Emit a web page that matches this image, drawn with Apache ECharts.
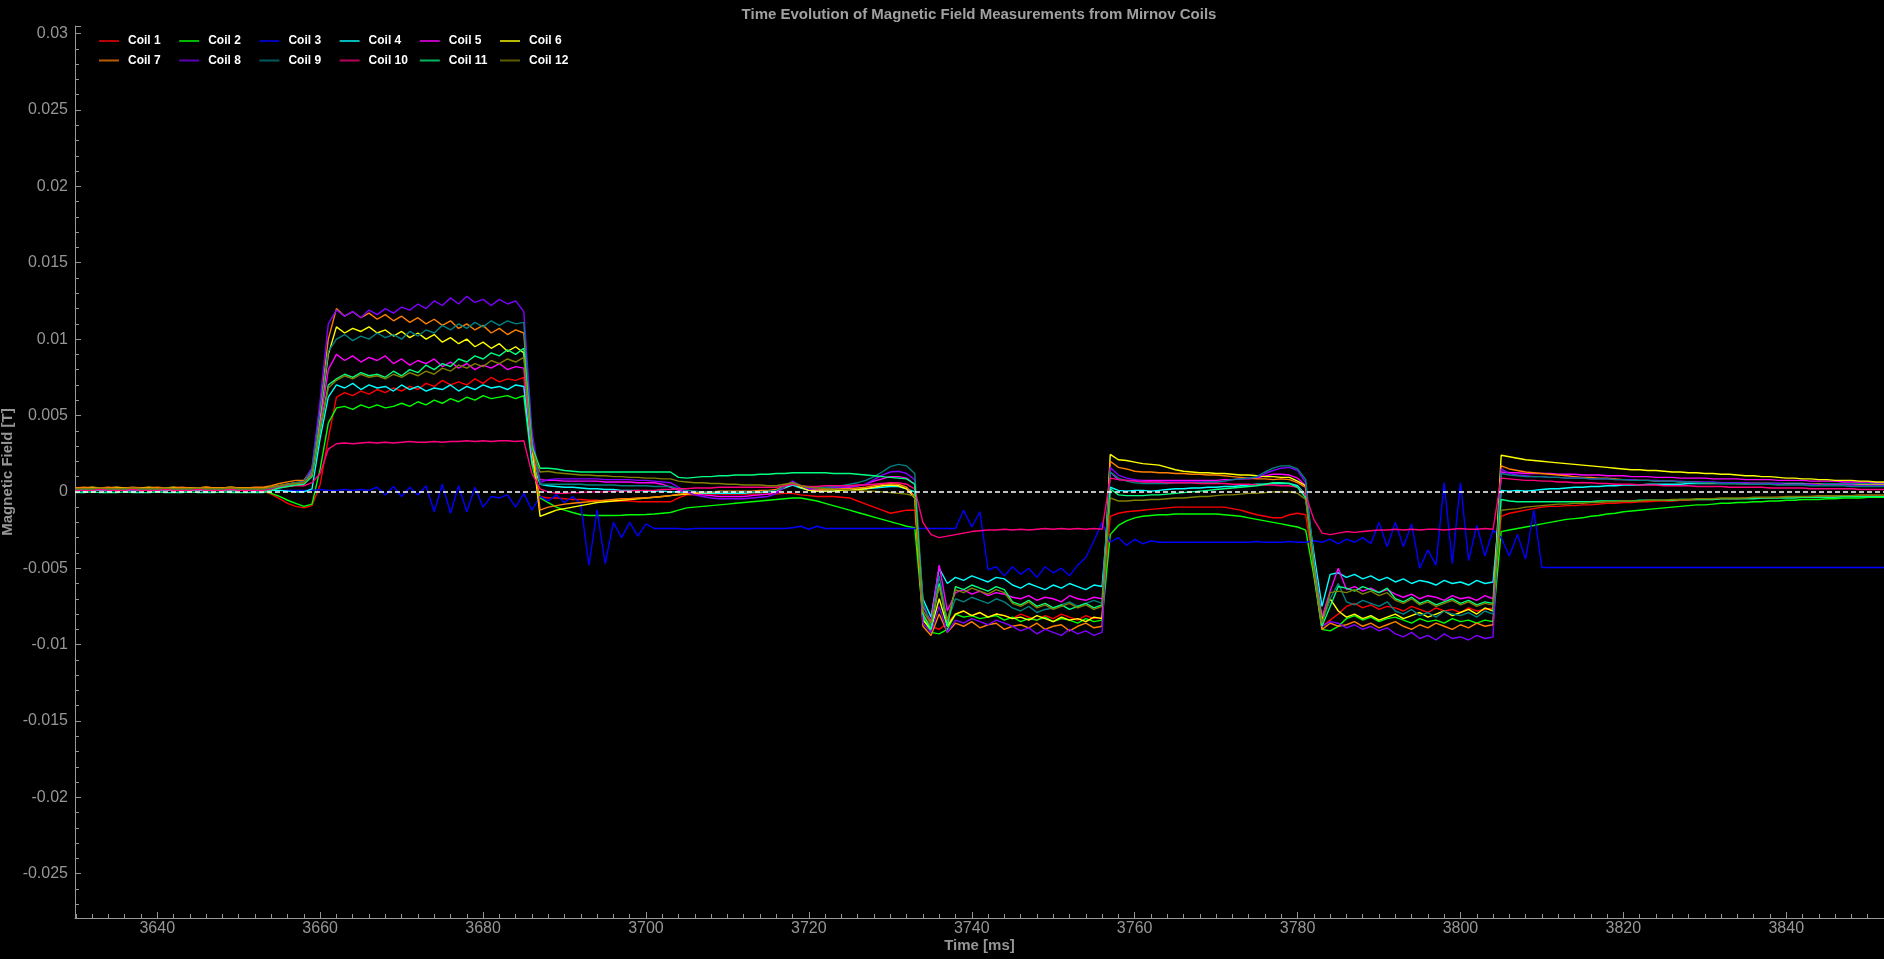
<!DOCTYPE html>
<html>
<head>
<meta charset="utf-8">
<title>Mirnov Coils</title>
<script src="https://cdn.jsdelivr.net/npm/echarts@6/dist/echarts.min.js"></script>
<style>
  html, body { margin: 0; padding: 0; background: #000; }
  #chart { width: 1884px; height: 959px; }
</style>
</head>
<body>
<div id="chart"></div>
<script>
// time axis in ms (1 ms sampling)
const timeMs = [
  3630, 3631, 3632, 3633, 3634, 3635, 3636, 3637, 3638, 3639,
  3640, 3641, 3642, 3643, 3644, 3645, 3646, 3647, 3648, 3649,
  3650, 3651, 3652, 3653, 3654, 3655, 3656, 3657, 3658, 3659,
  3660, 3661, 3662, 3663, 3664, 3665, 3666, 3667, 3668, 3669,
  3670, 3671, 3672, 3673, 3674, 3675, 3676, 3677, 3678, 3679,
  3680, 3681, 3682, 3683, 3684, 3685, 3686, 3687, 3688, 3689,
  3690, 3691, 3692, 3693, 3694, 3695, 3696, 3697, 3698, 3699,
  3700, 3701, 3702, 3703, 3704, 3705, 3706, 3707, 3708, 3709,
  3710, 3711, 3712, 3713, 3714, 3715, 3716, 3717, 3718, 3719,
  3720, 3721, 3722, 3723, 3724, 3725, 3726, 3727, 3728, 3729,
  3730, 3731, 3732, 3733, 3734, 3735, 3736, 3737, 3738, 3739,
  3740, 3741, 3742, 3743, 3744, 3745, 3746, 3747, 3748, 3749,
  3750, 3751, 3752, 3753, 3754, 3755, 3756, 3757, 3758, 3759,
  3760, 3761, 3762, 3763, 3764, 3765, 3766, 3767, 3768, 3769,
  3770, 3771, 3772, 3773, 3774, 3775, 3776, 3777, 3778, 3779,
  3780, 3781, 3782, 3783, 3784, 3785, 3786, 3787, 3788, 3789,
  3790, 3791, 3792, 3793, 3794, 3795, 3796, 3797, 3798, 3799,
  3800, 3801, 3802, 3803, 3804, 3805, 3806, 3807, 3808, 3809,
  3810, 3811, 3812, 3813, 3814, 3815, 3816, 3817, 3818, 3819,
  3820, 3821, 3822, 3823, 3824, 3825, 3826, 3827, 3828, 3829,
  3830, 3831, 3832, 3833, 3834, 3835, 3836, 3837, 3838, 3839,
  3840, 3841, 3842, 3843, 3844, 3845, 3846, 3847, 3848, 3849,
  3850, 3851, 3852
];

// coil signals, in units of 1e-4 T
// segments: 3630-3653 | 3654-3661 | 3662-3685 | 3686 | 3687-3699 | 3700-3716 | 3717-3733
//           3734-3737 | 3738-3756 | 3757-3769 | 3770-3781 | 3782-3785 | 3786-3804 | 3805-3852
const coil1 = [
  1, 1, 1.5, 1, 1, 1.5, 1, 1, 1, 1.5, 1, 1,
  1, 1.5, 1, 1, 1, 1.5, 1, 1, 1, 1, 1, 0.5,
  -1.5, -4.5, -7.5, -9.5, -10.5, -9, 5, 35,
  62, 65, 63, 66, 64, 67, 65, 68, 66, 69, 67, 71, 69, 73, 70, 72, 70, 74, 71, 75, 72, 74, 73, 75,
  22,
  -3, -4, -4, -4.5, -5, -5, -5.5, -5.5, -6, -6, -6, -6, -6.5,
  -6.5, -6.5, -6.5, -6.5, -4, -2, -2, -1.5, -1.5, -1.5, -1.5, -1.5, -1.5, -1.5, -1.5, -1.5, -1.5,
  -1, -1, -2, -2.5, -3, -3, -3, -3.5, -4, -6, -8, -10, -12, -14, -13, -12, -12,
  -80, -88, -90, -86,
  -80, -78, -81, -79, -82, -80, -81, -83, -80, -82, -84, -81, -83, -80, -82, -84, -81, -83, -82,
  -16, -14, -13, -12.5, -12, -11.5, -11, -10.5, -10, -10, -10, -10, -10,
  -10, -10, -11, -12, -13.5, -15, -16, -17, -17, -15, -14, -15,
  -50, -88, -84, -80,
  -75, -73, -76, -74, -77, -75, -76, -78, -75, -77, -79, -76, -78, -77, -79, -76, -78, -77, -76,
  -16, -14, -13, -12, -11, -10, -9.5, -9.5, -9, -9, -8.5, -8.5,
  -8, -7.5, -7.5, -7, -7, -6.5, -6.5, -6, -6, -6, -5.5, -5.5,
  -5, -5, -5, -4.5, -4.5, -4.5, -4, -4, -4, -4, -3.5, -3.5,
  -3.5, -3.5, -3, -3, -3, -3, -3, -2.5, -2.5, -2.5, -2.5, -2.5
];
const coil2 = [
  1.5, 1, 1.5, 1.5, 1, 1.5, 1.5, 1, 1.5, 1.5, 1, 1.5,
  1.5, 1, 1.5, 1.5, 1, 1.5, 1.5, 1, 1.5, 1.5, 1, 1,
  -1, -3, -5.5, -7.5, -9.5, -8, 15, 45,
  55, 56, 54, 57, 55, 57, 55, 56, 58, 56, 59, 57, 60, 58, 61, 59, 62, 60, 63, 61, 62, 63, 61, 63,
  18,
  -4, -7, -10, -12, -13.5, -15, -15.5, -15.5, -15.5, -15.5, -15.3, -15, -15,
  -14.8, -14.5, -14, -13.5, -12, -10.5, -10, -9.5, -9, -8.5, -8, -7.5, -7, -6.5, -6, -5.5, -5,
  -4.5, -4, -4, -5, -6, -7.5, -9, -10.5, -12, -13.5, -15, -16.5, -18, -19.5, -21, -22.5, -23.5,
  -82, -92, -93, -90,
  -80, -82, -81, -83, -82, -81, -84, -82, -85, -83, -84, -82, -85, -83, -84, -86, -83, -85, -84,
  -28, -22, -19, -17, -16, -15.5, -15, -15, -14.5, -14.5, -14.5, -14.5, -14.5,
  -14.5, -15, -15.5, -16, -17, -18, -19, -20, -21, -22, -23, -25,
  -55, -90, -91, -88,
  -83, -81, -84, -82, -85, -83, -82, -84, -86, -83, -85, -84, -86, -83, -85, -84, -86, -84, -85,
  -26, -25, -24, -23, -22, -21, -20, -19, -18, -17.5, -17, -16,
  -15.5, -14.5, -14, -13, -12.5, -12, -11.5, -11, -10.5, -10, -9.5, -9,
  -8.5, -8.5, -8, -7.5, -7.5, -7, -7, -6.5, -6.5, -6, -6, -5.5,
  -5.5, -5, -5, -5, -4.5, -4.5, -4, -4, -4, -3.5, -3.5, -3.5
];
const coil3 = [
  1, 1, 2.5, 1, 1, 2.5, 1, 1, 1, 2.5, 1, 1,
  2.5, 1, 1, 1, 2.5, 1, 1, 2.5, 1, 1, 1, 2.5,
  1, 1, 1, 1, 1, 1, 1.5, 1,
  1, 1.5, 1, 1.5, 1, 3, -2, 3.5, -3, 3, -2, 4, -13, 5, -14, 4, -13, 3, -10, -3, -4, -2, -10, -1,
  -12,
  -3, -6, -2, -7, -3, -8, -48, -12, -47, -20, -30, -20, -29,
  -21, -24, -24, -24, -24, -24.5, -24, -24, -24, -24, -24, -24, -24, -24, -24, -24, -24,
  -24, -23.5, -22.5, -24.5, -22.5, -24, -24, -24, -24, -24, -24, -24, -24, -24, -24, -24, -24,
  -24, -24, -24, -24,
  -24, -12, -23, -13, -51, -49, -55, -49, -54, -50, -56, -49, -53, -50, -55, -48, -43, -32, -20,
  -33, -30, -35, -31, -34, -32, -33, -33, -33, -33, -33, -33, -33,
  -33, -33, -33, -33, -33, -32.5, -33, -33, -33, -32.5, -33, -33,
  -32, -33, -31, -34,
  -31, -33, -30, -34, -20, -36, -20, -36, -21, -50, -38, -48, 6, -47, 6, -45, -22, -42, -25,
  -30, -42, -28, -44, -12, -49.5, -49.5, -49.5, -49.5, -49.5, -49.5, -49.5,
  -49.5, -49.5, -49.5, -49.5, -49.5, -49.5, -49.5, -49.5, -49.5, -49.5, -49.5, -49.5,
  -49.5, -49.5, -49.5, -49.5, -49.5, -49.5, -49.5, -49.5, -49.5, -49.5, -49.5, -49.5,
  -49.5, -49.5, -49.5, -49.5, -49.5, -49.5, -49.5, -49.5, -49.5, -49.5, -49.5, -49.5
];
const coil4 = [
  1, 0.5, 1, 1, 0.5, 1, 1, 0.5, 1, 1, 0.5, 1,
  1, 0.5, 1, 1, 0.5, 1, 1, 0.5, 1, 1, 0.5, 1,
  1, 1, 0.5, 0, 0, 2, 35, 62,
  70, 68, 71, 67, 70, 68, 69, 66, 70, 67, 69, 66, 68, 67, 70, 66, 69, 67, 70, 68, 69, 67, 70, 69,
  20,
  5, 4, 3.5, 3, 3, 2.5, 2, 2, 1.5, 1.5, 1, 1, 1,
  0.5, 0.5, 0.5, 0, 0, -0.5, -0.5, -1, -1, -1, -1, -1, -1, -0.5, -0.5, 0, 0.5,
  2.5, 4.5, 2.5, 1, 0.5, 0.5, 0.5, 1, 1, 1.5, 2, 2.5, 3, 3.5, 3.5, 2, 0,
  -70, -82, -50, -60,
  -56, -58, -55, -57, -59, -56, -57, -61, -63, -60, -62, -64, -61, -63, -60, -62, -64, -61, -62,
  3, 1, 0.5, 1, 1, 0.5, 1, 1.5, 2, 2, 2.5, 2.5, 3,
  3, 3.5, 3.5, 4, 4.5, 5, 5, 5.5, 5.5, 5.5, 4, -2,
  -40, -75, -54, -53,
  -56, -54, -57, -55, -58, -56, -59, -57, -60, -58, -59, -61, -58, -60, -59, -61, -58, -60, -59,
  1, 0.5, 1, 0.5, 1, 1.5, 2, 2, 2.5, 3, 3, 3.5,
  3.5, 4, 4, 4.5, 4.5, 4.5, 5, 5, 5, 5, 5, 5.5,
  5.5, 5.5, 5.5, 5.5, 5.5, 5.5, 5.5, 5.5, 5.5, 5.5, 5.5, 5.5,
  5.5, 5.5, 5, 5, 5, 5, 5, 5, 5, 5, 5, 5
];
const coil5 = [
  2, 2, 2.5, 2, 2, 2.5, 2, 2, 2, 2.5, 2, 2,
  2.5, 2, 2, 2, 2.5, 2, 2, 2.5, 2, 2, 2, 2,
  2.5, 3.5, 4.5, 5.5, 6, 12, 45, 80,
  90, 86, 89, 85, 88, 86, 89, 84, 87, 83, 86, 84, 87, 82, 85, 81, 84, 80, 83, 81, 84, 80, 82, 81,
  25,
  8, 7.5, 7.5, 7, 7, 7, 7, 7, 6.5, 6.5, 6.5, 6.5, 6,
  6, 6, 5, 3, 1, 0, -1, -2, -2.5, -3, -3, -3, -3, -2.5, -2, -1.5, 0,
  3, 6, 4, 1, 1, 1.5, 2, 2.5, 3, 4, 5, 7, 8.5, 10, 10, 9, 5,
  -75, -85, -48, -78,
  -66, -64, -67, -65, -68, -66, -67, -69, -70, -68, -71, -69, -70, -72, -68, -70, -71, -69, -70,
  13, 8, 7.5, 7.5, 7.5, 7.5, 7.5, 7.5, 7.5, 7.5, 7.5, 7.5, 7.5,
  7.5, 8, 8, 8.5, 8.5, 9, 10.5, 11.5, 11.5, 11, 9, 4,
  -45, -82, -65, -50,
  -64, -62, -65, -63, -66, -64, -67, -69, -67, -70, -68, -69, -71, -68, -70, -69, -71, -68, -70,
  13, 12.5, 12.5, 12, 12, 12, 12, 11.5, 11.5, 11.5, 11, 11,
  11, 10.5, 10.5, 10.5, 10, 10, 10, 9.5, 9.5, 9.5, 9, 9,
  9, 9, 8.5, 8.5, 8.5, 8.5, 8, 8, 8, 8, 7.5, 7.5,
  7.5, 7.5, 7, 7, 7, 7, 6.5, 6.5, 6.5, 6.5, 6, 6
];
const coil6 = [
  2.5, 2.5, 3, 2.5, 2.5, 3, 2.5, 2.5, 2.5, 3, 2.5, 2.5,
  3, 2.5, 2.5, 2.5, 3, 2.5, 2.5, 3, 2.5, 2.5, 2.5, 2.5,
  3, 4, 5, 6, 6.5, 14, 50, 90,
  108, 104, 107, 105, 108, 104, 106, 102, 105, 101, 104, 100, 103, 98, 101, 97, 100, 95, 98, 94, 97, 92, 95, 91,
  30,
  -16, -14, -12, -11, -10, -9, -8, -7, -6.5, -6, -5.5, -5, -4.5,
  -4, -3.5, -3, -2.5, -2, -1.5, -1, -0.5, -0.5, 0, 0, 0, 0, 0, 0, 0.5, 1,
  3, 6, 3, 1, 0.5, 0.5, 0.5, 1, 1, 1.5, 2, 3, 4, 4.5, 4, 2, -4,
  -84, -90, -70, -88,
  -80, -78, -81, -79, -82, -80, -81, -83, -82, -84, -81, -83, -85, -82, -84, -83, -85, -82, -83,
  24.5, 21, 20.5, 19.5, 18.5, 18, 17.5, 16, 14.5, 13.5, 13, 12.5, 12.5,
  12, 12, 11.5, 11, 11, 10.5, 10, 10, 9.5, 9.5, 7, 4,
  -50, -84, -70, -78,
  -82, -80, -83, -81, -84, -82, -80, -83, -81, -79, -82, -80, -78, -81, -79, -77, -80, -76, -78,
  24, 23, 22, 21, 20.5, 20, 19.5, 19, 18.5, 18, 17.5, 17,
  16.5, 16, 15.5, 15, 14.5, 14.5, 14, 14, 13.5, 13, 13, 12.5,
  12.5, 12, 12, 11.5, 11.5, 11, 10.5, 10.5, 10, 10, 9.5, 9,
  9, 8.5, 8.5, 8, 8, 7.5, 7.5, 7.5, 7, 7, 6.5, 6.5
];
const coil7 = [
  2.5, 3, 2.5, 2.5, 3, 2.5, 2.5, 3, 2.5, 2.5, 3, 2.5,
  2.5, 3, 2.5, 2.5, 3, 2.5, 2.5, 3, 2.5, 2.5, 3, 3,
  4, 5.5, 6.5, 7.5, 7.5, 15, 55, 100,
  120, 115, 118, 114, 117, 113, 116, 112, 115, 111, 114, 110, 113, 109, 112, 107, 110, 106, 109, 104, 107, 103, 106, 104,
  35,
  -12, -10, -9, -8, -7.5, -7, -6.5, -6, -5.5, -5, -4.5, -4.5, -4,
  -4, -3.5, -3, -2.5, -1.5, -1, -0.5, 0, 0, 0.5, 0.5, 0.5, 0.5, 0.5, 1, 1, 1.5,
  4, 6.5, 4, 2, 1.5, 1.5, 1.5, 2, 2, 2.5, 3, 4, 5, 5.5, 5, 3, -3,
  -88, -94, -80, -92,
  -86, -88, -85, -89, -87, -86, -90, -88, -87, -89, -86, -90, -88, -87, -91, -88, -86, -89, -88,
  20, 16, 15, 13.5, 13, 13, 12.5, 12.5, 12, 12, 11.5, 11.5, 11,
  11, 10.5, 10, 9.5, 9, 8.5, 8.5, 8, 8.5, 8, 6, 3,
  -52, -90, -86, -88,
  -87, -85, -88, -86, -89, -87, -85, -88, -90, -87, -89, -86, -88, -90, -87, -89, -86, -88, -87,
  17, 15, 14, 13, 12.5, 12, 11.5, 11, 10.5, 10, 9.5, 9.5,
  9, 9, 8.5, 8, 8, 7.5, 7.5, 7, 7, 7, 6.5, 6.5,
  6.5, 6, 6, 6, 6, 5.5, 5.5, 5.5, 5.5, 5.5, 5, 5,
  5, 5, 5, 5, 4.5, 4.5, 4.5, 4.5, 4.5, 4.5, 4.5, 4.5
];
const coil8 = [
  1.5, 1.5, 2, 1.5, 1.5, 2, 1.5, 1.5, 1.5, 2, 1.5, 1.5,
  2, 1.5, 1.5, 1.5, 2, 1.5, 1.5, 2, 1.5, 1.5, 1.5, 1.5,
  2.5, 4, 5, 6, 6.5, 16, 60, 110,
  119, 115, 118, 114, 119, 116, 120, 117, 121, 119, 123, 120, 125, 122, 127, 123, 128, 124, 126, 122, 126, 123, 125, 118,
  40,
  6, 8, 8.5, 8.5, 8.5, 8.5, 8.5, 8.5, 8, 8, 8, 8, 7.5,
  7.5, 7, 6.5, 6, 3, 0, -2, -3, -4, -4.5, -4.5, -4.5, -4.5, -4, -3.5, -3, -1,
  3, 7, 4, 2, 2, 2.5, 3, 3, 3.5, 4, 5, 8, 11, 13, 13.5, 12, 8,
  -86, -92, -75, -92,
  -84, -86, -83, -85, -87, -84, -86, -88, -91, -89, -93, -90, -92, -94, -90, -93, -91, -94, -92,
  16, 11, 9, 8, 7, 6.5, 6.5, 6.5, 6.5, 6.5, 6.5, 6.5, 6.5,
  6.5, 7, 8, 8.5, 9, 9.5, 12, 14, 15.5, 16, 14, 6,
  -50, -88, -85, -86,
  -89, -87, -90, -88, -91, -89, -93, -95, -92, -96, -94, -97, -93, -96, -95, -97, -94, -96, -95,
  15, 12, 11, 10.5, 10, 10, 9.5, 9.5, 9, 9, 9, 8.5,
  8.5, 8.5, 8, 8, 8, 7.5, 7.5, 7.5, 7, 7, 7, 6.5,
  6.5, 6.5, 6.5, 6, 6, 6, 6, 5.5, 5.5, 5.5, 5.5, 5,
  5, 5, 5, 4.5, 4.5, 4.5, 4.5, 4.5, 4, 4, 4, 4
];
const coil9 = [
  1.5, 1.5, 1.5, 2, 1.5, 1.5, 1.5, 2, 1.5, 1.5, 1.5, 2,
  1.5, 1.5, 1.5, 2, 1.5, 1.5, 1.5, 2, 1.5, 1.5, 1.5, 1.5,
  2.5, 4, 5, 6, 6.5, 14, 52, 92,
  100, 103, 99, 102, 100, 104, 101, 103, 100, 105, 102, 106, 104, 109, 106, 110, 107, 111, 108, 112, 109, 112, 110, 111,
  33,
  5, 5, 5, 5, 5, 5, 4.5, 4.5, 4.5, 4.5, 4, 4, 4,
  4, 3.5, 3.5, 3.5, 2, 1, 0.5, 0, 0, 0, 0, 0, 0, 0, 0, 0.5, 1,
  3.5, 6, 4, 3, 3, 3, 3.5, 4, 5, 6, 7.5, 10, 13, 16.5, 18, 17, 12,
  -72, -88, -55, -85,
  -70, -72, -69, -71, -73, -70, -72, -76, -78, -75, -79, -77, -76, -74, -72, -75, -73, -71, -73,
  13, 9, 7, 6, 5.5, 5.5, 5.5, 5.5, 6, 6, 6, 6, 6.5,
  6.5, 7, 8, 8.5, 9, 10, 13, 15.5, 17, 17, 15, 8,
  -45, -86, -70, -60,
  -72, -74, -71, -73, -75, -72, -78, -80, -77, -81, -79, -82, -78, -80, -81, -79, -82, -78, -80,
  12, 11, 10.5, 10, 10, 10, 9.5, 9.5, 9, 9, 9, 8.5,
  8.5, 8.5, 8, 8, 7.5, 7.5, 7.5, 7, 7, 7, 6.5, 6.5,
  6, 6, 6, 5.5, 5.5, 5.5, 5, 5, 5, 5, 4.5, 4.5,
  4.5, 4.5, 4, 4, 4, 4, 4, 3.5, 3.5, 3.5, 3.5, 3.5
];
const coil10 = [
  1, 1, 1, 1.5, 1, 1, 1, 1.5, 1, 1, 1, 1.5,
  1, 1, 1, 1.5, 1, 1, 1, 1.5, 1, 1, 1, 1,
  1.5, 3, 3.5, 4, 4, 6, 12, 28,
  31.5, 32, 31.5, 32, 32.5, 32, 32.5, 32, 32.5, 33, 32.5, 32.5, 33, 32.5, 33, 33, 33.5, 33, 33.5, 33, 33.5, 33.5, 33, 33.5,
  12,
  2, 0, -1, -1, -0.5, -0.5, 0, 0, 0, 0.5, 0.5, 0.5, 1,
  1, 1, 1.5, 1.5, 2, 2, 2.5, 2.5, 2.5, 3, 3, 3, 3, 3, 3, 3, 3,
  4, 5, 4, 3.5, 3.5, 4, 4, 4, 4, 4.5, 4.5, 5, 5.5, 6, 6, 5, 2,
  -20, -28, -30, -29,
  -28, -27, -26, -25.5, -25, -25, -24.5, -25, -24.5, -25, -24.5, -24, -24.5, -24, -24.5, -24, -24.5, -24, -24.5,
  9, 8, 7.5, 7, 6.5, 6.5, 6.5, 6, 6, 6, 6, 5.5, 5.5,
  5.5, 5.5, 5, 5, 5, 4.5, 4.5, 4.5, 4, 4, 3, -2,
  -18, -27, -28, -27,
  -26, -26.5, -26, -25.5, -25, -25, -24.5, -25, -24.5, -25, -24.5, -24.5, -25, -24.5, -24, -24.5, -24.5, -24, -24.5,
  9, 8.5, 8, 7.5, 7.5, 7, 7, 6.5, 6.5, 6, 6, 6,
  5.5, 5.5, 5, 5, 5, 4.5, 4.5, 4.5, 4, 4, 4, 4,
  3.5, 3.5, 3.5, 3.5, 3, 3, 3, 3, 3, 2.5, 2.5, 2.5,
  2.5, 2.5, 2, 2, 2, 2, 2, 2, 1.5, 1.5, 1.5, 1.5
];
const coil11 = [
  -0.5, -0.5, 0, -0.5, -0.5, -0.5, 0, -0.5, -0.5, -0.5, 0, -0.5,
  -0.5, -0.5, 0, -0.5, -0.5, -0.5, 0, -0.5, -0.5, -0.5, -0.5, -0.5,
  1, 2.5, 3.5, 4.5, 5, 10, 40, 70,
  74, 77, 75, 78, 76, 77, 75, 79, 76, 80, 78, 83, 80, 84, 82, 87, 85, 89, 87, 91, 89, 93, 90, 94,
  30,
  15.5, 15.5, 15, 14, 13.5, 13, 13, 13, 13, 13, 13, 13, 13,
  13, 13, 13, 13, 9.5, 9, 9.5, 10, 10, 10.5, 10.5, 11, 11, 11, 11.5, 11.5, 12,
  12, 12.5, 12.5, 12.5, 12.5, 12.5, 12, 12, 12, 11.5, 11, 10.5, 10, 9.5, 9, 8.5, 5,
  -80, -90, -60, -88,
  -62, -64, -61, -63, -65, -62, -64, -72, -74, -71, -75, -73, -76, -74, -77, -75, -73, -76, -74,
  2, -2, -2.5, -2.5, -2.5, -2, -2, -1.5, -1, -0.5, 0, 0.5, 1,
  1.5, 2, 2.5, 3, 3.5, 4, 5, 6, 6, 5.5, 3, -4,
  -48, -88, -75, -62,
  -63, -65, -62, -64, -66, -63, -70, -72, -69, -73, -71, -74, -72, -70, -73, -71, -74, -72, -73,
  -5, -6, -6.5, -6.5, -6.5, -6.5, -6.5, -6.5, -6.5, -6.5, -6.5, -6.5,
  -6, -6, -6, -6, -6, -5.5, -5.5, -5.5, -5.5, -5.5, -5, -5,
  -5, -5, -5, -4.5, -4.5, -4.5, -4.5, -4.5, -4, -4, -4, -4,
  -4, -3.5, -3.5, -3.5, -3.5, -3.5, -3, -3, -3, -3, -3, -3
];
const coil12 = [
  2, 2, 2, 2.5, 2, 2, 2, 2.5, 2, 2, 2, 2.5,
  2, 2, 2, 2.5, 2, 2, 2, 2.5, 2, 2, 2, 2,
  3, 4, 5, 5.5, 6, 11, 42, 68,
  73, 76, 74, 77, 75, 76, 74, 77, 75, 78, 76, 79, 77, 81, 79, 83, 81, 84, 82, 86, 84, 87, 85, 88,
  28,
  13, 13.5, 12.5, 12, 11.5, 11, 11, 10.5, 10.5, 10, 10, 9.5, 9.5,
  9, 9, 8.5, 8.5, 7, 6.5, 6, 6, 5.5, 5.5, 5, 5, 4.5, 4.5, 4.5, 4, 4,
  5, 6, 4, 3, 2.5, 2, 2, 1.5, 1, 1, 0.5, 0.5, 0, -0.5, -1, -1.5, -3,
  -78, -86, -62, -84,
  -64, -66, -63, -65, -67, -64, -66, -73, -75, -72, -76, -74, -77, -75, -73, -76, -74, -77, -75,
  -4, -6, -6, -5.5, -5.5, -5, -5, -4.5, -4, -4, -3.5, -3, -3,
  -2.5, -2, -2, -1.5, -1, -1, -0.5, 0, 0, 0, -1, -5,
  -50, -86, -66, -65,
  -66, -64, -67, -65, -68, -66, -71, -73, -70, -74, -72, -75, -73, -71, -74, -72, -75, -73, -74,
  -12, -11.5, -11, -10, -9.5, -9, -8.5, -8, -8, -7.5, -7.5, -7,
  -7, -6.5, -6.5, -6, -6, -6, -5.5, -5.5, -5.5, -5, -5, -5,
  -4.5, -4.5, -4.5, -4, -4, -4, -4, -3.5, -3.5, -3.5, -3.5, -3,
  -3, -3, -3, -2.5, -2.5, -2.5, -2.5, -2.5, -2, -2, -2, -2
];

const coilNames = ['Coil 1', 'Coil 2', 'Coil 3', 'Coil 4', 'Coil 5', 'Coil 6',
  'Coil 7', 'Coil 8', 'Coil 9', 'Coil 10', 'Coil 11', 'Coil 12'];
const coilColors = ['#ff0000', '#00ff00', '#0000ff', '#00ffff', '#ff00ff', '#ffff00',
  '#ff8000', '#8000ff', '#008080', '#ff0080', '#00ff80', '#808000'];
const coilValues = [coil1, coil2, coil3, coil4, coil5, coil6,
  coil7, coil8, coil9, coil10, coil11, coil12];

const AXIS_GREY = '#969696';
const FONT = 'Liberation Sans, Arial, sans-serif';

/**
 * 单个线圈的折线系列
 * @param name 图例名
 * @param values 数据 (1e-4 T)
 * @param color 颜色
 */
function coilSeries(name, values, color) {
  if (values.length !== timeMs.length) {
    console.warn(name, 'length', values.length, '!=', timeMs.length);
  }
  return {
    name: name,
    type: 'line',
    data: timeMs.map((t, i) => [t, values[i] * 1e-4]),
    showSymbol: false,
    symbol: 'none',
    animation: false,
    lineStyle: {width: 1.4, color: color},
    itemStyle: {color: color}
  };
}

const series = coilNames.map((name, i) => coilSeries(name, coilValues[i], coilColors[i]));

// zero reference line, drawn on top of the last coil
series[series.length - 1].markLine = {
  silent: true,
  symbol: 'none',
  animation: false,
  label: {show: false},
  lineStyle: {color: '#ffffff', type: [5, 3], width: 1.5},
  data: [{yAxis: 0}]
};

/**
 * 图例：每个线圈单独定位，6 列 2 行
 */
const legends = coilNames.map((name, i) => ({
  data: [name],
  left: 99 + (i % 6) * 80.2,
  top: i < 6 ? 35 : 54.5,
  padding: 0,
  icon: 'rect',
  itemWidth: 20,
  itemHeight: 2,
  itemStyle: {opacity: 0.72},
  textStyle: {
    color: '#ffffff',
    fontWeight: 'bold',
    fontSize: 12,
    fontFamily: FONT,
    padding: [0, 0, 0, 4]
  }
}));

const option = {
  backgroundColor: '#000000',
  animation: false,
  title: {
    text: 'Time Evolution of Magnetic Field Measurements from Mirnov Coils',
    left: 979,
    textAlign: 'center',
    top: 7,
    padding: 0,
    textStyle: {color: '#a0a0a0', fontWeight: 'bold', fontSize: 15, fontFamily: FONT}
  },
  legend: legends,
  grid: {left: 75, right: 0, top: 26, bottom: 41, outerBoundsMode: 'none', containLabel: false},
  xAxis: {
    type: 'value',
    min: 3629.9,
    max: 3852,
    splitNumber: 11,
    name: 'Time [ms]',
    nameLocation: 'middle',
    nameGap: 20,
    nameMoveOverlap: false,
    nameTextStyle: {color: AXIS_GREY, fontWeight: 'bold', fontSize: 15, fontFamily: FONT},
    axisLine: {show: true, onZero: false, lineStyle: {color: AXIS_GREY, width: 1}},
    axisTick: {show: true, inside: true, length: 6, lineStyle: {color: AXIS_GREY}},
    minorTick: {show: true, splitNumber: 10, length: 4, lineStyle: {color: AXIS_GREY}},
    axisLabel: {
      color: AXIS_GREY, fontSize: 16, margin: 3, fontFamily: FONT,
      showMinLabel: false, showMaxLabel: false,
      formatter: v => String(v)
    },
    splitLine: {show: false}
  },
  yAxis: {
    type: 'value',
    min: -0.0279,
    max: 0.0305,
    splitNumber: 12,
    name: 'Magnetic Field [T]',
    nameLocation: 'middle',
    nameRotate: 90,
    nameGap: 60,
    nameMoveOverlap: false,
    nameTextStyle: {color: AXIS_GREY, fontWeight: 'bold', fontSize: 15, fontFamily: FONT},
    axisLine: {show: true, onZero: false, lineStyle: {color: AXIS_GREY, width: 1}},
    axisTick: {show: true, inside: true, length: 6, lineStyle: {color: AXIS_GREY}},
    minorTick: {show: true, splitNumber: 5, length: 4, lineStyle: {color: AXIS_GREY}},
    axisLabel: {
      color: AXIS_GREY, fontSize: 16, margin: 7, fontFamily: FONT,
      showMinLabel: false, showMaxLabel: false
    },
    splitLine: {show: false}
  },
  series: series
};

const chart = echarts.init(document.getElementById('chart'));
chart.setOption(option);
</script>
</body>
</html>
